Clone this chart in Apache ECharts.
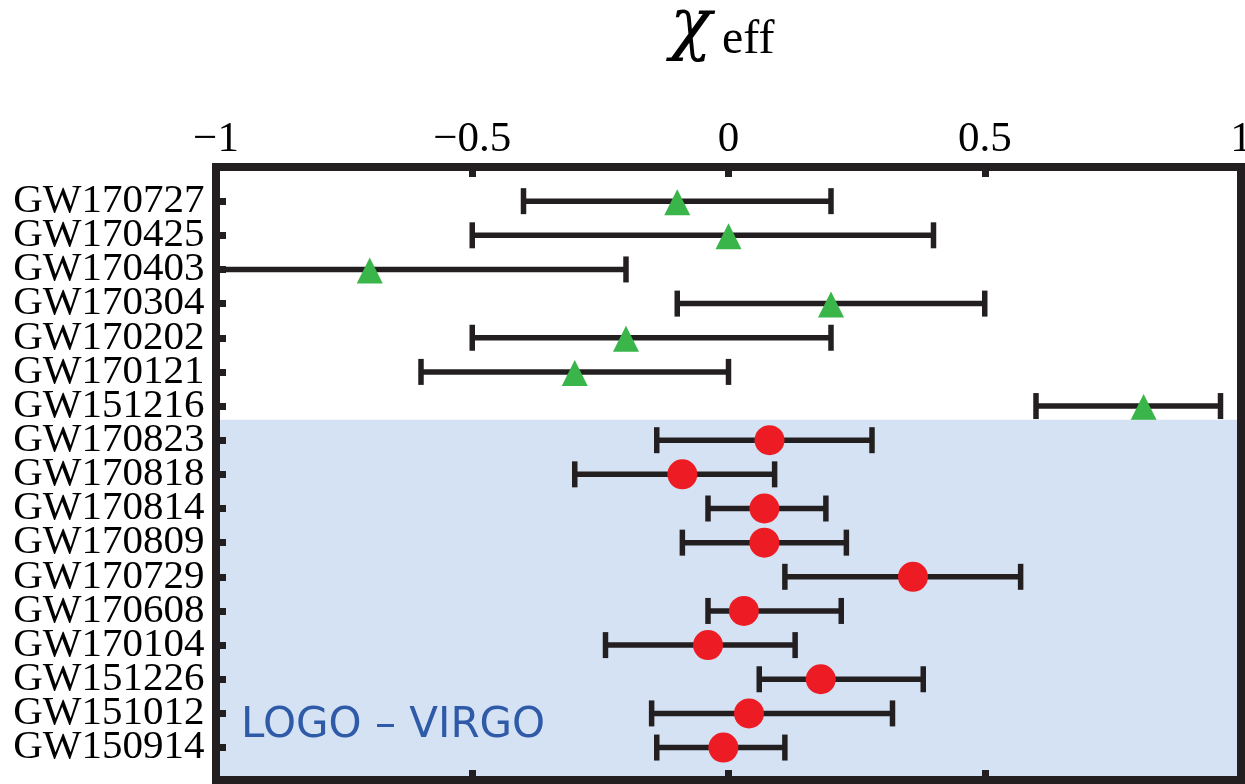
<!DOCTYPE html>
<html>
<head>
<meta charset="utf-8">
<script src="https://cdn.jsdelivr.net/npm/echarts@6/dist/echarts.min.js"></script>
<style>html,body{margin:0;padding:0;background:#fff;overflow:hidden;width:1245px;height:784px;}#chart{width:1245px;height:784px;}</style>
</head>
<body>
<div id="chart"></div>
<script>
// ---- Data (top to bottom as drawn) ----
const iasEvents = ['GW170727','GW170425','GW170403','GW170304','GW170202','GW170121','GW151216'];
const iasChi    = [-0.10, 0.00, -0.70, 0.20, -0.20, -0.30, 0.81];
const iasLow    = [-0.40, -0.50, -1.00, -0.10, -0.50, -0.60, 0.60];
const iasHigh   = [0.20, 0.40, -0.20, 0.50, 0.20, 0.00, 0.96];

const ligoEvents = ['GW170823','GW170818','GW170814','GW170809','GW170729','GW170608','GW170104','GW151226','GW151012','GW150914'];
const ligoChi    = [0.08, -0.09, 0.07, 0.07, 0.36, 0.03, -0.04, 0.18, 0.04, -0.01];
const ligoLow    = [-0.14, -0.30, -0.04, -0.09, 0.11, -0.04, -0.24, 0.06, -0.15, -0.14];
const ligoHigh   = [0.28, 0.09, 0.19, 0.23, 0.57, 0.22, 0.13, 0.38, 0.32, 0.11];

const xTicks = [-1, -0.5, 0, 0.5, 1];
const bandLabel = 'LOGO \u2013 VIRGO';

// ---- Build ----
const allEvents = iasEvents.concat(ligoEvents);
const n = allEvents.length;
const rowOf = i => n - 1 - i; // row value: top row highest
const rows = allEvents.map((e, i) => rowOf(i));
const yMin = -0.95, yMax = 17.0;
const bandTop = ligoEvents.length - 1 + 0.6;

const iasErr = iasEvents.map((e, i) => [iasLow[i], iasHigh[i], rowOf(i)]);
const iasPts = iasEvents.map((e, i) => [iasChi[i], rowOf(i)]);
const ligoErr = ligoEvents.map((e, i) => [ligoLow[i], ligoHigh[i], rowOf(i + iasEvents.length)]);
const ligoPts = ligoEvents.map((e, i) => [ligoChi[i], rowOf(i + iasEvents.length)]);
const rowLabels = allEvents.map((e, i) => ({ name: e, value: [xTicks[0], rowOf(i)] }));

const INK = '#231f20';
const fmtX = v => (v < 0 ? '\u2212' + String(-v) : String(v));

function errRender(params, api) {
  const lo = api.coord([api.value(0), api.value(2)]);
  const hi = api.coord([api.value(1), api.value(2)]);
  const cap = 13;
  const st = { stroke: INK, lineWidth: 5.5 };
  return {
    type: 'group',
    children: [
      { type: 'line', shape: { x1: lo[0], y1: lo[1], x2: hi[0], y2: hi[1] }, style: st },
      { type: 'line', shape: { x1: lo[0], y1: lo[1] - cap, x2: lo[0], y2: lo[1] + cap }, style: st },
      { type: 'line', shape: { x1: hi[0], y1: hi[1] - cap, x2: hi[0], y2: hi[1] + cap }, style: st }
    ]
  };
}

const axisLine = { show: true, onZero: false, lineStyle: { color: INK, width: 8, cap: 'square' } };

const chart = echarts.init(document.getElementById('chart'), null, { renderer: 'canvas', width: 1245, height: 784 });
chart.setOption({
  animation: false,
  backgroundColor: '#fff',
  grid: { left: 216, right: 4, top: 167, bottom: 4, containLabel: false, outerBoundsMode: 'none' },
  xAxis: [
    {
      type: 'value', position: 'top', min: -1, max: 1, interval: 0.5, z: 10,
      axisLine: axisLine,
      axisTick: { show: true, inside: true, length: 10, customValues: xTicks, lineStyle: { color: INK, width: 7 } },
      axisLabel: {
        show: true, margin: 6, formatter: fmtX, customValues: xTicks,
        showMinLabel: true, showMaxLabel: true, hideOverlap: false,
        fontFamily: 'Liberation Serif', fontSize: 43, color: '#000'
      },
      splitLine: { show: false }
    },
    {
      type: 'value', position: 'bottom', min: -1, max: 1, interval: 0.5, z: 10,
      axisLine: axisLine,
      axisTick: { show: true, inside: true, length: 10, customValues: xTicks, lineStyle: { color: INK, width: 7 } },
      axisLabel: { show: false },
      splitLine: { show: false }
    }
  ],
  yAxis: [
    {
      type: 'value', position: 'left', min: yMin, max: yMax, z: 10,
      axisLine: axisLine,
      axisTick: {
        show: true, inside: true, length: 10, customValues: rows,
        lineStyle: { color: INK, width: 7 }
      },
      axisLabel: { show: false },
      splitLine: { show: false }
    },
    {
      type: 'value', position: 'right', min: yMin, max: yMax, z: 10,
      axisLine: axisLine,
      axisTick: { show: false },
      axisLabel: { show: false },
      splitLine: { show: false }
    }
  ],
  series: [
    {
      type: 'custom', name: 'iasErr', z: 2, xAxisIndex: 0, yAxisIndex: 0,
      renderItem: errRender, encode: { x: [0, 1], y: 2 }, data: iasErr, clip: false
    },
    {
      type: 'scatter', name: 'ias', z: 3, xAxisIndex: 0, yAxisIndex: 0,
      symbol: 'triangle', symbolSize: [26, 26], symbolOffset: [0, 1],
      itemStyle: { color: '#39b54a', opacity: 1 }, data: iasPts
    },
    {
      type: 'custom', name: 'band', z: 4, xAxisIndex: 0, yAxisIndex: 0,
      renderItem: function (params, api) {
        const p1 = api.coord([api.value(0), api.value(3)]);
        const p2 = api.coord([api.value(1), api.value(2)]);
        return { type: 'rect', shape: { x: p1[0], y: p1[1], width: p2[0] - p1[0], height: p2[1] - p1[1] },
                 style: { fill: '#d5e2f3' } };
      },
      encode: { x: [0, 1], y: [2, 3] },
      data: [[-1, 1, yMin, bandTop]]
    },
    {
      type: 'custom', name: 'ligoErr', z: 5, xAxisIndex: 0, yAxisIndex: 0,
      renderItem: errRender, encode: { x: [0, 1], y: 2 }, data: ligoErr, clip: false
    },
    {
      type: 'scatter', name: 'ligo', z: 6, xAxisIndex: 0, yAxisIndex: 0,
      symbol: 'circle', symbolSize: 30,
      itemStyle: { color: '#ed1c24', opacity: 1 }, data: ligoPts
    },
    {
      type: 'scatter', name: 'rowLabels', z: 11, xAxisIndex: 0, yAxisIndex: 0,
      symbol: 'rect', symbolSize: 1, itemStyle: { color: 'rgba(0,0,0,0)' }, clip: false, silent: true,
      labelLayout: { hideOverlap: false },
      label: {
        show: true, position: 'left', distance: 11, formatter: p => p.name,
        fontFamily: 'Liberation Serif', fontSize: 41, color: '#000', opacity: 1
      },
      data: rowLabels
    }
  ],
  graphic: [
    {
      type: 'text', left: 670, top: -5, z: 20,
      style: { text: '\u03c7', font: 'italic 69px "DejaVu Serif"', fill: '#000' }
    },
    {
      type: 'text', left: 722, top: 16, z: 20,
      style: { text: 'eff', font: '48px "Liberation Serif"', fill: '#000' }
    },
    {
      type: 'text', left: 241, top: 705, z: 20,
      style: { text: bandLabel, font: '42px "DejaVu Sans"', fill: '#2f5aa8' }
    }
  ]
});
</script>
</body>
</html>
